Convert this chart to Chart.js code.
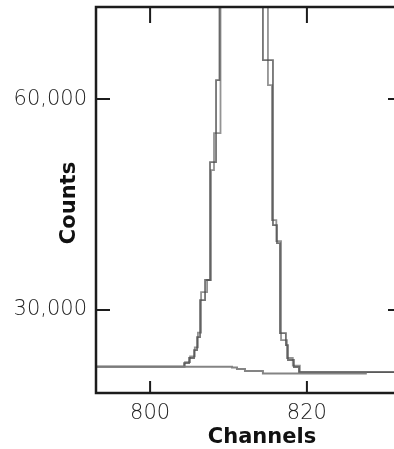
<!DOCTYPE html>
<html>
<head>
<meta charset="utf-8">
<script src="https://cdn.jsdelivr.net/npm/chart.js@4.4.1/dist/chart.umd.min.js"></script>
<style>
  html, body { margin: 0; padding: 0; background: #fff; overflow: hidden; }
  #wrap { position: relative; width: 402px; height: 449px; }
</style>
</head>
<body>
<div id="wrap"><canvas id="chart"></canvas></div>
<script>
/* gamma peak spectrum: two overlaid runs + background run */

const X_TICKS = [800, 820];
const Y_TICKS = [30000, 60000];

// run A (step edges in channels, counts after each edge)
const RUN_A_CH     = [793.1, 804.33, 804.97, 805.61, 805.99, 806.37, 807.01, 807.64, 808.41, 808.85, 814.39, 815.67, 816.18, 816.56, 817.32, 817.58, 818.34, 818.98, 832];
const RUN_A_COUNTS = [21950, 22460, 23180, 24310, 26160, 31420, 34270, 51040, 62700, 95000, 65550, 42090, 39530, 26730, 25020, 22890, 21900, 21180, 21180];

// run B (slightly offset second trace)
const RUN_B_CH     = [793.1, 804.45, 805.1, 805.7, 806.1, 806.5, 807.27, 807.77, 808.15, 808.98, 815.03, 815.54, 816.1, 816.7, 817.45, 818.2, 819.1, 832];
const RUN_B_COUNTS = [21950, 22600, 23400, 24700, 26800, 32560, 34270, 49900, 55170, 95000, 62000, 42800, 39800, 25730, 23180, 22100, 21180, 21180];

// background run
const BKG_CH     = [793.1, 810.45, 811.08, 812.1, 814.39, 827.64];
const BKG_COUNTS = [21950, 21820, 21610, 21330, 20970, 20970];

const INK = '#1c1c1c';
const LABEL = '#222';
const FONT = "'DejaVu Sans', sans-serif";

function pts(xs, ys) { return xs.map((x, i) => ({ x, y: ys[i] })); }

/* frame + inward tick marks + axis titles */
const framePlugin = {
  id: 'frame',
  afterDatasetsDraw(chart) {
    const { ctx, chartArea: a, scales } = chart;
    ctx.save();
    ctx.strokeStyle = INK;
    ctx.lineWidth = 2.5;
    ctx.strokeRect(a.left, a.top, a.right - a.left, a.bottom - a.top);
    ctx.lineWidth = 2;
    ctx.beginPath();
    X_TICKS.forEach(v => {
      const x = scales.x.getPixelForValue(v);
      ctx.moveTo(x, a.top); ctx.lineTo(x, a.top + 16);
      ctx.moveTo(x, a.bottom); ctx.lineTo(x, a.bottom - 12);
    });
    Y_TICKS.forEach(v => {
      const y = scales.y.getPixelForValue(v);
      ctx.moveTo(a.left, y); ctx.lineTo(a.left + 14, y);
      ctx.moveTo(a.right, y); ctx.lineTo(a.right - 13, y);
    });
    ctx.stroke();

    ctx.fillStyle = '#111';
    ctx.font = 'bold 21px ' + FONT;
    ctx.textAlign = 'center';
    ctx.textBaseline = 'alphabetic';
    ctx.fillText('Channels', a.left + 166, 443);
    ctx.translate(75, 203);
    ctx.rotate(-Math.PI / 2);
    ctx.fillText('Counts', 0, 0);
    ctx.restore();
  }
};

const stepLine = (data, color, width) => ({
  data, borderColor: color, borderWidth: width, stepped: 'before',
  pointRadius: 0, fill: false, tension: 0,
});

new Chart(document.getElementById('chart').getContext('2d'), {
  type: 'line',
  data: {
    datasets: [
      stepLine(pts(BKG_CH, BKG_COUNTS), 'rgba(125,125,125,0.95)', 2),
      stepLine(pts(RUN_B_CH, RUN_B_COUNTS), 'rgba(75,75,75,0.6)', 1.8),
      stepLine(pts(RUN_A_CH, RUN_A_COUNTS), 'rgba(55,55,55,0.7)', 1.8),
    ]
  },
  options: {
    responsive: true,
    maintainAspectRatio: false,
    animation: false,
    layout: { padding: { top: 7, right: 1, left: 0, bottom: 0 } },
    plugins: { legend: { display: false }, tooltip: { enabled: false } },
    scales: {
      x: {
        type: 'linear', min: 793.1, max: 832.0,
        afterBuildTicks: s => { s.ticks = X_TICKS.map(v => ({ value: v })); },
        afterFit: s => { s.height = 56; s.paddingLeft = 0; s.paddingRight = 0; },
        grid: { display: false, drawTicks: false },
        border: { display: false },
        ticks: { color: LABEL, padding: 8, maxRotation: 0, font: { family: FONT, size: 21, weight: '200' } },
      },
      y: {
        type: 'linear', min: 18200, max: 73100,
        afterBuildTicks: s => { s.ticks = Y_TICKS.map(v => ({ value: v })); },
        afterFit: s => { s.width = 96; s.paddingTop = 0; s.paddingBottom = 0; },
        grid: { display: false, drawTicks: false },
        border: { display: false },
        ticks: {
          color: LABEL, padding: 9, font: { family: FONT, size: 21, weight: '200' },
          callback: v => v.toLocaleString('en-US'),
        },
      }
    }
  },
  plugins: [framePlugin]
});
</script>
</body>
</html>
